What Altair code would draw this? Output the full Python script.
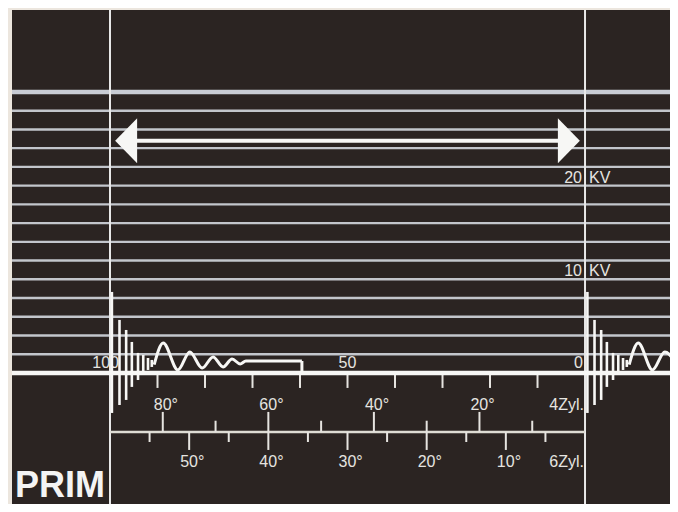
import altair as alt
import pandas as pd

# ---------------- values ----------------
# horizontal graticule (kV), baseline = 0 kV
grid_kv = [0, 2, 4, 6, 8, 10, 12, 14, 16, 18, 20, 22, 24, 26, 28, 30]
kv_label_values = [20, 10]

# cycle position: 0 = left cylinder marker, 100 = right marker
marker_pos = [0, 100]
dwell_tick_pct = [90, 80, 70, 60, 50, 40, 30, 20, 10]
dwell_label_pct = [100, 50, 0]

# dwell-angle scales
deg4_major = [80, 60, 40, 20]
deg4_minor = [70, 50, 30, 10]
deg6_major = [50, 40, 30, 20, 10]
deg6_minor = [55, 45, 35, 25, 15, 5]

# trace, cycle 1 (position %, kV)
burst1_pos = [0.4, 2.0, 3.4, 4.6, 5.9, 7.0, 8.0, 8.8]
burst1_top = [8.65, 5.66, 4.59, 3.31, 2.14, 1.92, 1.60, 1.39]
burst1_bot = [-4.27, -3.42, -2.88, -1.49, -0.75, -0.21, 0.32, 0.64]
wave1_pos = [9.3, 11.2, 14.3, 16.8, 19.4, 21.7, 23.8, 25.7, 27.4, 28.6, 40.4]
wave1_kv = [0.90, 3.20, 0.32, 2.24, 0.53, 1.71, 0.64, 1.49, 0.96, 1.28, 1.28]
drop1_pos = [40.4]
drop1_top = [1.28]
drop1_bot = [0.0]

# trace, cycle 2
burst2_pos = [100.5, 102.0, 103.4, 104.6, 105.9, 107.0, 108.0, 108.8]
burst2_top = [8.65, 5.66, 4.59, 3.31, 2.14, 1.92, 1.60, 1.39]
burst2_bot = [-4.27, -3.42, -2.88, -1.49, -0.75, -0.21, 0.32, 0.64]
wave2_pos = [109.3, 111.2, 114.2, 116.8, 119.6]
wave2_kv = [0.90, 3.20, 0.32, 2.24, 0.60]

# double arrow (cycle span)
arrow_from = [5.3]
arrow_to = [95.2]
arrow_kv = [24.8]
arrowhead_left = [3.4]
arrowhead_right = [96.6]

# ---------------- styling / layout ----------------
BG = "#2b2422"
PAPER = "#ece6de"
GRID = "#c3c6cc"
TRACE = "#f7f7f5"
TEXT = "#e6e4e0"
FONT = "Liberation Sans"

VIEW_W, VIEW_H = 658, 494
X_DOMAIN = [-20.63, 117.89]
Y_DOMAIN = [-13.99, 38.75]
xs = alt.Scale(domain=X_DOMAIN, nice=False, zero=False)
ys = alt.Scale(domain=Y_DOMAIN, nice=False, zero=False)

DEG_LINE = -6.30
UP_MAJOR = -4.16
UP_MINOR = -5.10
DN_MAJOR = -8.22
DN_MINOR = -7.37
UP_LABEL = -3.95
DN_LABEL = -10.04
DWELL_TICK_END = -1.6
PRIM_POS = (-20.0, -13.2)


def X(field="pos"):
    return alt.X(f"{field}:Q", scale=xs, axis=None)


def Y(field="kv"):
    return alt.Y(f"{field}:Q", scale=ys, axis=None)


def vrules(pos, y0, y1, **style):
    df = pd.DataFrame({"pos": pos, "y0": y0, "y1": y1})
    return alt.Chart(df).mark_rule(clip=True, **style).encode(x=X(), y=Y("y0"), y2="y1:Q")


def texts(pos, kv, labels, **style):
    df = pd.DataFrame({"pos": pos, "kv": kv, "label": labels})
    return alt.Chart(df).mark_text(**style).encode(x=X(), y=Y(), text="label:N")


# graticule
inner = [v for v in grid_kv if 0 < v < max(grid_kv)]
grid = alt.Chart(pd.DataFrame({"kv": inner})).mark_rule(
    color=GRID, strokeWidth=2.4).encode(y=Y())
top_line = alt.Chart(pd.DataFrame({"kv": [max(grid_kv)]})).mark_rule(
    color="#c8ccd4", strokeWidth=4.5).encode(y=Y())
base_line = alt.Chart(pd.DataFrame({"kv": [min(grid_kv)]})).mark_rule(
    color=TRACE, strokeWidth=4.5).encode(y=Y())

markers = alt.Chart(pd.DataFrame({"pos": marker_pos})).mark_rule(
    color="#e8e8e8", strokeWidth=2).encode(x=X())

# dwell percent ticks on the baseline
dt_pos = [100 - p for p in dwell_tick_pct]
dwell_ticks = vrules(dt_pos, [0] * len(dt_pos), [DWELL_TICK_END] * len(dt_pos),
                     color=TEXT, strokeWidth=2)

dl_style = dict(font=FONT, fontSize=16, color=TEXT, baseline="alphabetic", dy=-5)
dwell_lab_left = texts([100 - dwell_label_pct[0]], [0], [str(dwell_label_pct[0])],
                       align="right", dx=9, **dl_style)
dwell_lab_mid = texts([100 - dwell_label_pct[1]], [0], [str(dwell_label_pct[1])],
                      align="center", **dl_style)
dwell_lab_right = texts([100 - dwell_label_pct[2]], [0], [str(dwell_label_pct[2])],
                        align="right", dx=-2, **dl_style)

# kV labels
kv_style = dict(font=FONT, fontSize=16, color=TEXT, baseline="alphabetic", dy=-3)
kv_num = texts([100] * len(kv_label_values), kv_label_values,
               [str(v) for v in kv_label_values], align="right", dx=-3, **kv_style)
kv_unit = texts([100] * len(kv_label_values), kv_label_values,
                ["KV"] * len(kv_label_values), align="left", dx=4, **kv_style)

# degree scale line
deg_line = alt.Chart(pd.DataFrame({"a": [0], "b": [100], "kv": [DEG_LINE]})).mark_rule(
    color="#dedcd4", strokeWidth=2.6).encode(x=X("a"), x2="b:Q", y=Y())

p4M = [100 - d / 90 * 100 for d in deg4_major]
p4m = [100 - d / 90 * 100 for d in deg4_minor]
p6M = [100 - d / 60 * 100 for d in deg6_major]
p6m = [100 - d / 60 * 100 for d in deg6_minor]

ts = dict(color=TEXT, strokeWidth=2)
t4M = vrules(p4M, [DEG_LINE] * len(p4M), [UP_MAJOR] * len(p4M), **ts)
t4m = vrules(p4m, [DEG_LINE] * len(p4m), [UP_MINOR] * len(p4m), **ts)
t6M = vrules(p6M, [DEG_LINE] * len(p6M), [DN_MAJOR] * len(p6M), **ts)
t6m = vrules(p6m, [DEG_LINE] * len(p6m), [DN_MINOR] * len(p6m), **ts)

deg_style = dict(font=FONT, fontSize=16, color=TEXT, baseline="alphabetic")
l4 = texts(p4M, [UP_LABEL] * len(p4M), [f"{d}°" for d in deg4_major],
           align="left", dx=-9, **deg_style)
l6 = texts(p6M, [DN_LABEL] * len(p6M), [f"{d}°" for d in deg6_major],
           align="left", dx=-9, **deg_style)
lzyl = texts([100, 100], [UP_LABEL, DN_LABEL], ["4Zyl.", "6Zyl."],
             align="right", dx=-1, **deg_style)

# arrow
arrow = alt.Chart(pd.DataFrame({"a": arrow_from, "b": arrow_to, "kv": arrow_kv})).mark_rule(
    color=TRACE, strokeWidth=4).encode(x=X("a"), x2="b:Q", y=Y())
head_l = alt.Chart(pd.DataFrame({"pos": arrowhead_left, "kv": arrow_kv})).mark_point(
    shape="M-0.489,0L0.489,-1L0.489,1Z", size=2025, filled=True, color=TRACE,
    opacity=1, strokeWidth=0).encode(x=X(), y=Y())
head_r = alt.Chart(pd.DataFrame({"pos": arrowhead_right, "kv": arrow_kv})).mark_point(
    shape="M0.489,0L-0.489,-1L-0.489,1Z", size=2025, filled=True, color=TRACE,
    opacity=1, strokeWidth=0).encode(x=X(), y=Y())

# trace
b1 = vrules(burst1_pos, burst1_top, burst1_bot, color=TRACE, strokeWidth=2.6)
b2 = vrules(burst2_pos, burst2_top, burst2_bot, color=TRACE, strokeWidth=2.6)
d1 = vrules(drop1_pos, drop1_top, drop1_bot, color=TRACE, strokeWidth=3)


def wave(pos, kv):
    return alt.Chart(pd.DataFrame({"pos": pos, "kv": kv})).mark_line(
        color=TRACE, strokeWidth=3, interpolate="monotone", clip=True).encode(
        x=X(), y=Y())


w1 = wave(wave1_pos, wave1_kv)
w2 = wave(wave2_pos, wave2_kv)

prim = texts([PRIM_POS[0]], [PRIM_POS[1]], ["PRIM"], font=FONT, fontSize=36,
             fontWeight="bold", color="#f4f4f4", align="left", baseline="alphabetic")

chart = alt.layer(
    grid, top_line, markers, dwell_ticks, deg_line, t4M, t4m, t6M, t6m,
    l4, l6, lzyl, kv_num, kv_unit, dwell_lab_left, dwell_lab_mid, dwell_lab_right,
    arrow, head_l, head_r, base_line, b1, b2, d1, w1, w2, prim,
).properties(
    width=VIEW_W, height=VIEW_H, background=PAPER,
    padding={"left": 4, "top": 2, "right": 0, "bottom": 0},
    autosize=alt.AutoSizeParams(type="none"),
).configure_view(strokeWidth=0, fill=BG)

chart.save("out.html", embed_options={"renderer": "svg", "actions": False})
